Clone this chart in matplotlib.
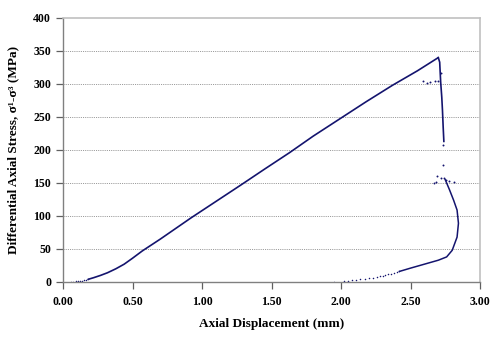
import matplotlib
matplotlib.use("Agg")
import matplotlib.pyplot as plt

# Loading branch: sparse toe readings, then continuous record up to peak
toe_x = [0.06, 0.075, 0.09, 0.105, 0.12, 0.135, 0.15, 0.165, 0.18]
toe_y = [0.0, 0.4, 0.8, 1.2, 1.6, 2.1, 2.7, 3.3, 4.0]

load_x = [0.18, 0.22, 0.27, 0.32, 0.38, 0.44, 0.50, 0.57, 0.70, 0.92, 1.10,
          1.28, 1.45, 1.63, 1.80, 1.99, 2.18, 2.37, 2.55, 2.70]
load_y = [4.0, 6.5, 10.0, 14.0, 20.0, 27.0, 36.0, 47.0, 65.0, 97.0, 122.0,
          147.0, 171.0, 196.0, 221.0, 247.0, 273.0, 298.0, 320.0, 340.0]

# Post-peak drop
drop_x = [2.70, 2.71, 2.717, 2.725, 2.73, 2.735, 2.74]
drop_y = [340.0, 333.0, 303.0, 280.0, 260.0, 235.0, 213.0]

# Stress relief and unloading branch
unload_x = [2.75, 2.78, 2.81, 2.835, 2.845, 2.835, 2.80, 2.76, 2.70,
            2.65, 2.60, 2.55, 2.50, 2.46, 2.42]
unload_y = [155.0, 140.0, 124.0, 109.0, 89.0, 68.0, 48.0, 38.0, 33.0,
            30.0, 27.0, 24.0, 21.0, 18.5, 16.0]

# Sparse unloading tail readings
tail_x = [1.95, 2.02, 2.05, 2.08, 2.11, 2.14, 2.17, 2.20, 2.23, 2.26,
          2.28, 2.30, 2.32, 2.34, 2.36, 2.38, 2.40, 2.42]
tail_y = [0.5, 1.0, 1.7, 2.4, 3.1, 3.8, 4.6, 5.5, 6.6, 7.8,
          8.6, 9.5, 10.4, 11.4, 12.4, 13.5, 14.7, 16.0]

# Scattered readings around the stress drops
scatter_x = [2.72, 2.59, 2.617, 2.64, 2.676, 2.70, 2.736, 2.736,
             2.69, 2.68, 2.67, 2.72, 2.78, 2.81, 2.74, 2.755]
scatter_y = [316.0, 305.0, 302.0, 303.0, 304.0, 305.0, 207.0, 177.0,
             160.0, 152.0, 150.0, 157.0, 153.0, 151.0, 158.0, 154.0]

x_ticks = [0.0, 0.5, 1.0, 1.5, 2.0, 2.5, 3.0]
y_ticks = [0, 50, 100, 150, 200, 250, 300, 350, 400]

line_color = "#14146e"

plt.rcParams["font.family"] = ["Liberation Serif", "DejaVu Serif"]

fig = plt.figure(figsize=(5.0, 3.4), dpi=100)
ax = fig.add_axes([0.126, 0.1706, 0.834, 0.7765])

ax.plot(load_x, load_y, color=line_color, lw=1.2, solid_capstyle="round")
ax.plot(drop_x, drop_y, color=line_color, lw=1.2)
ax.plot(unload_x, unload_y, color=line_color, lw=1.1)
ax.plot(toe_x, toe_y, ls="none", marker="o", ms=1.1, mew=0, color=line_color)
ax.plot(tail_x, tail_y, ls="none", marker="o", ms=1.1, mew=0, color=line_color)
ax.plot(scatter_x, scatter_y, ls="none", marker="o", ms=1.4, mew=0, color=line_color)

ax.set_xlim(0, 3.0)
ax.set_ylim(0, 400)
ax.set_xticks(x_ticks)
ax.set_xticklabels([f"{v:.2f}" for v in x_ticks])
ax.set_yticks(y_ticks)
ax.set_yticklabels([str(v) for v in y_ticks])

for v in y_ticks[1:-1]:
    ax.axhline(v, color="#8a8a8a", lw=0.6, ls=(0, (1.3, 1.3)), zorder=0)

for side in ("left", "bottom"):
    ax.spines[side].set_color("#808080")
    ax.spines[side].set_linewidth(1.0)
for side in ("top", "right"):
    ax.spines[side].set_color("#c0c0c0")
    ax.spines[side].set_linewidth(1.2)

ax.tick_params(axis="both", direction="out", length=5, width=0.9,
               color="#606060", labelsize=8.5)
ax.tick_params(axis="x", pad=5)
for lbl in ax.get_xticklabels() + ax.get_yticklabels():
    lbl.set_fontweight("bold")

ax.set_xlabel("Axial Displacement (mm)", fontsize=9.5, fontweight="bold", labelpad=7)
ax.set_ylabel("Differential Axial Stress, σ¹-σ³ (MPa)", fontsize=9.5,
              fontweight="bold", labelpad=10)

fig.savefig("out.png", dpi=100)
